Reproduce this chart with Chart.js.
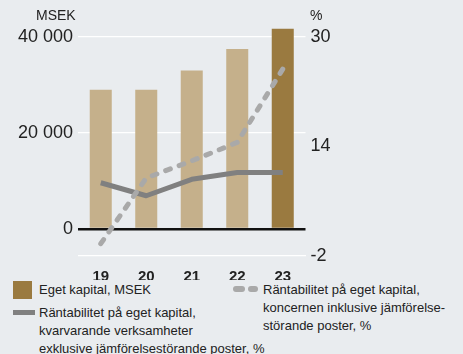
<!DOCTYPE html>
<html>
<head>
<meta charset="UTF-8">
<script src="https://cdn.jsdelivr.net/npm/chart.js"></script>
<style>
    body {
        margin: 0;
        background-color: #e9ecef;
        font-family: "Liberation Sans", Arial, sans-serif;
        color: #222;
    }
    .wrap {
        position: relative;
        width: 463px;
        height: 354px;
        overflow: hidden;
    }
    canvas { position: absolute; left: 0; top: 0; }
    .unit { position: absolute; font-size: 14px; line-height: 16px; }
    .leg { position: absolute; font-size: 13px; line-height: 18px; white-space: nowrap; }
    .sq { position: absolute; left: 13px; top: 281px; width: 19px; height: 18px; background: #9a7a40; }
    .solid { position: absolute; left: 13px; top: 310px; width: 22px; height: 5px; background: #808080; }
    .dash { position: absolute; top: 286px; height: 6px; border-radius: 3px; background: #a9a9a9; }
</style>
</head>
<body>
<div class="wrap">
    <canvas id="chart" width="463" height="280"></canvas>
    <div class="unit" style="left:36px; top:7px;">MSEK</div>
    <div class="unit" style="left:310px; top:7px;">%</div>

    <div class="sq"></div>
    <div class="leg" style="left:39px; top:281px;">Eget kapital, MSEK</div>

    <div class="solid"></div>
    <div class="leg" style="left:39px; top:304px;">Räntabilitet på eget kapital,<br>kvarvarande verksamheter<br>exklusive jämförelsestörande poster, %</div>

    <div class="dash" style="left:233px; width:12px;"></div>
    <div class="dash" style="left:248px; width:10px;"></div>
    <div class="leg" style="left:263px; top:281px;">Räntabilitet på eget kapital,<br>koncernen inklusive jämförelse-<br>störande poster, %</div>
</div>
<script>
    const years = ['19', '20', '21', '22', '23'];
    const egetKapital = [29000, 29000, 33000, 37500, 41700];
    const rteKvarvarande = [8.7, 6.8, 9.2, 10.2, 10.2];
    const rteKoncernen = [-0.2, 9.4, 11.9, 14.6, 25.3];
    const leftTicks = [0, 20000, 40000];
    const rightTicks = [-2, 14, 30];

    const barColors = years.map((y, i) => i === years.length - 1 ? '#9a7a40' : '#c5b08b');

    const fontFamily = '"Liberation Sans", Arial, sans-serif';

    new Chart(document.getElementById('chart'), {
        type: 'bar',
        data: {
            labels: years,
            datasets: [
                {
                    type: 'line',
                    data: rteKoncernen,
                    yAxisID: 'y1',
                    borderColor: '#a9a9a9',
                    borderWidth: 5,
                    borderDash: [5, 9.38],
                    borderCapStyle: 'round',
                    pointRadius: 0,
                    tension: 0,
                    order: 0
                },
                {
                    type: 'line',
                    data: rteKvarvarande,
                    yAxisID: 'y1',
                    borderColor: '#808080',
                    borderWidth: 5,
                    borderJoinStyle: 'round',
                    pointRadius: 0,
                    tension: 0,
                    order: 1
                },
                {
                    data: egetKapital,
                    yAxisID: 'y',
                    backgroundColor: barColors,
                    categoryPercentage: 1,
                    barPercentage: 0.484,
                    order: 2
                }
            ]
        },
        options: {
            responsive: false,
            animation: false,
            layout: { padding: { top: 25, left: 0, right: 0, bottom: 0 } },
            plugins: {
                legend: { display: false },
                tooltip: { enabled: false }
            },
            scales: {
                x: {
                    grid: { display: false },
                    border: { display: false },
                    ticks: {
                        padding: 4,
                        color: '#222',
                        font: { family: fontFamily, size: 15, weight: 'bold' }
                    },
                    afterFit: s => { s.height = 24; }
                },
                y: {
                    position: 'left',
                    min: -5625,
                    max: 42500,
                    afterBuildTicks: s => { s.ticks = leftTicks.map(v => ({ value: v })); },
                    afterFit: s => { s.width = 78; },
                    border: { display: false },
                    grid: {
                        drawTicks: false,
                        color: c => c.tick.value === 0 ? '#111' : '#ffffff',
                        lineWidth: c => c.tick.value === 0 ? 2.5 : 1.2
                    },
                    ticks: {
                        padding: 5,
                        color: '#222',
                        font: { family: fontFamily, size: 18 },
                        callback: v => v === 0 ? '0' : (v / 1000) + ' 000'
                    }
                },
                y1: {
                    position: 'right',
                    min: -2,
                    max: 31.75,
                    afterBuildTicks: s => { s.ticks = rightTicks.map(v => ({ value: v })); },
                    afterFit: s => { s.width = 157.5; },
                    border: { display: false },
                    grid: {
                        drawTicks: false,
                        color: c => c.tick.value === -2 ? '#ffffff' : 'rgba(0,0,0,0)',
                        lineWidth: 1.2
                    },
                    ticks: {
                        padding: 5,
                        color: '#222',
                        font: { family: fontFamily, size: 18 }
                    }
                }
            }
        }
    });
</script>
</body>
</html>
